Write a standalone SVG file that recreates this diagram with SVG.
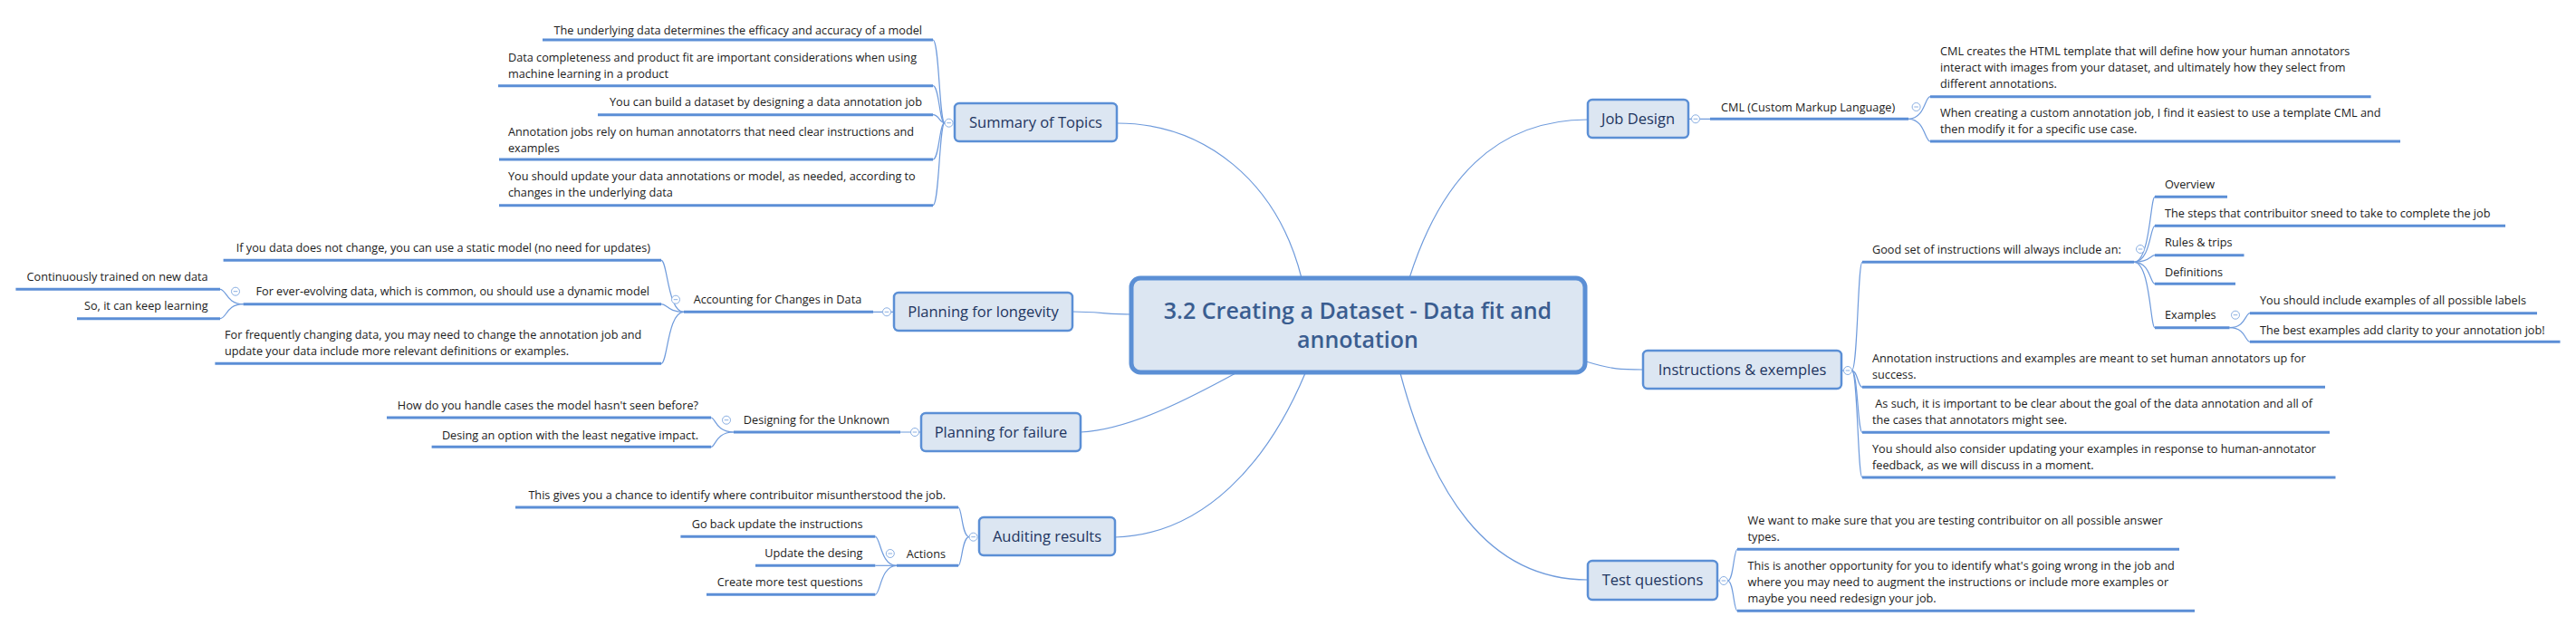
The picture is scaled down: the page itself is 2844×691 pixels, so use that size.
<svg xmlns="http://www.w3.org/2000/svg" xmlns:xlink="http://www.w3.org/1999/xlink" width="2844" height="691" viewBox="0 0 2844 691">
<style>
text{font-family:"Open Sans","Liberation Sans",sans-serif}
.leaf{font-size:12.7px;fill:#1b1b1b}
.end{text-anchor:end}
.topic{font-size:16.5px;fill:#1e3560;text-anchor:middle}
.title{font-size:25px;font-weight:600;fill:#3a5d90;text-anchor:middle}
.ul{stroke:#5b8ed6;stroke-width:3;fill:none}
.cn{stroke:#6f9bdc;stroke-width:1.2;fill:none}
.box{fill:#dce6f2;stroke:#5b8fd5;stroke-width:2.5}
.main{fill:#dce6f2;stroke:#5b8fd5;stroke-width:5}
.col{fill:#fff;stroke:#8aafe2;stroke-width:1}
</style>
<defs>
<g id="minus"><circle r="4.5" class="col"/><line x1="-2.3" y1="0" x2="2.3" y2="0" stroke="#8aafe2" stroke-width="1"/></g>
</defs>
<rect width="2844" height="691" fill="#fff"/>

<g id="connectors">
<path class="cn" d="M1233,136 C1330,136 1410,200 1437,307"/>
<path class="cn" d="M1184,344 C1210,344 1225,347 1249,347"/>
<path class="cn" d="M1193,477 C1250,474 1320,436 1366,411"/>
<path class="cn" d="M1231,593 C1330,590 1400,510 1441,412"/>
<path class="cn" d="M1556,307 C1590,200 1650,132 1753,132"/>
<path class="cn" d="M1751,399 C1780,408 1790,408 1814,408"/>
<path class="cn" d="M1546,412 C1580,540 1640,640 1753,640"/>
<path class="cn" d="M1043,135.7 C1037,135.7 1037,44 1030,44"/>
<path class="cn" d="M1043,135.7 C1037,135.7 1037,94.7 1030,94.7"/>
<path class="cn" d="M1043,135.7 C1037,135.7 1037,126.7 1030,126.7"/>
<path class="cn" d="M1043,135.7 C1037,135.7 1037,176 1030,176"/>
<path class="cn" d="M1043,135.7 C1037,135.7 1037,226.7 1030,226.7"/>
<path class="cn" d="M964,344.3 L974.5,344.3 M983.5,344.3 L987,344.3"/>
<path class="cn" d="M755,344.3 C737,344.3 737,287.3 730,287.3"/>
<path class="cn" d="M755,344.3 C737,344.3 737,335.7 730,335.7"/>
<path class="cn" d="M755,344.3 C737,344.3 737,401.3 730,401.3"/>
<path class="cn" d="M268.6,335.7 C250,335.7 250,319.3 243,319.3"/>
<path class="cn" d="M268.6,335.7 C250,335.7 250,351.7 243,351.7"/>
<path class="cn" d="M994,477 L1005.5,477 M1014.5,477 L1017,477"/>
<path class="cn" d="M810,477 C790,477 790,461 785,461"/>
<path class="cn" d="M810,477 C790,477 790,493.3 785,493.3"/>
<path class="cn" d="M1070,592.7 C1062,592.7 1062,560 1058,560"/>
<path class="cn" d="M1070,592.7 C1062,592.7 1062,624.3 1058,624.3"/>
<path class="cn" d="M990,624.3 C972,624.3 972,592.3 966.3,592.3"/>
<path class="cn" d="M990,624.3 C972,624.3 972,624.3 966.3,624.3"/>
<path class="cn" d="M990,624.3 C972,624.3 972,656.3 966.3,656.3"/>
<path class="cn" d="M1864,131.3 L1867.5,131.3 M1876.5,131.3 L1888,131.3"/>
<path class="cn" d="M2107,131.3 C2125,131.3 2125,106.7 2131,106.7"/>
<path class="cn" d="M2107,131.3 C2125,131.3 2125,156 2131,156"/>
<path class="cn" d="M2033,409 L2035.5,409"/>
<path class="cn" d="M2044.5,409 C2051,409 2051,289.3 2056,289.3"/>
<path class="cn" d="M2044.5,409 C2051,409 2051,427.3 2056,427.3"/>
<path class="cn" d="M2044.5,409 C2051,409 2051,477.3 2056,477.3"/>
<path class="cn" d="M2044.5,409 C2051,409 2051,527 2056,527"/>
<path class="cn" d="M2356,289.3 C2374,289.3 2374,217.3 2379,217.3"/>
<path class="cn" d="M2356,289.3 C2374,289.3 2374,249.3 2379,249.3"/>
<path class="cn" d="M2356,289.3 C2374,289.3 2374,281.7 2379,281.7"/>
<path class="cn" d="M2356,289.3 C2374,289.3 2374,313.3 2379,313.3"/>
<path class="cn" d="M2356,289.3 C2374,289.3 2374,361.7 2379,361.7"/>
<path class="cn" d="M2461.5,361.7 C2479,361.7 2479,345.7 2484,345.7"/>
<path class="cn" d="M2461.5,361.7 C2479,361.7 2479,377.3 2484,377.3"/>
<path class="cn" d="M1896,641 L1898.5,641"/>
<path class="cn" d="M1907.5,641 C1914,641 1914,606.3 1918,606.3"/>
<path class="cn" d="M1907.5,641 C1914,641 1914,674.3 1918,674.3"/>
</g>

<g id="main">
<rect class="main" x="1249" y="307" width="501" height="104" rx="10"/>
<text class="title" x="1499" y="352">3.2 Creating a Dataset - Data fit and</text>
<text class="title" x="1499" y="384">annotation</text>
</g>

<g id="summary">
<rect class="box" x="1054" y="114" width="179" height="42" rx="5"/>
<text class="topic" x="1143.5" y="141">Summary of Topics</text>
<use href="#minus" x="1047.6" y="135.7"/>
</g>
<g id="summary-1">
<text class="leaf end" x="1018" y="37.8">The underlying data determines the efficacy and accuracy of a model</text>
<line class="ul" x1="599" y1="44" x2="1030" y2="44"/>
</g>
<g id="summary-2">
<text class="leaf" x="561" y="67.8">Data completeness and product fit are important considerations when using</text>
<text class="leaf" x="561" y="85.8">machine learning in a product</text>
<line class="ul" x1="550" y1="94.7" x2="1030" y2="94.7"/>
</g>
<g id="summary-3">
<text class="leaf end" x="1018" y="117.2">You can build a dataset by designing a data annotation job</text>
<line class="ul" x1="660" y1="126.7" x2="1030" y2="126.7"/>
</g>
<g id="summary-4">
<text class="leaf" x="561" y="149.5">Annotation jobs rely on human annotatorrs that need clear instructions and</text>
<text class="leaf" x="561" y="167.5">examples</text>
<line class="ul" x1="551" y1="176" x2="1030" y2="176"/>
</g>
<g id="summary-5">
<text class="leaf" x="561" y="198.8">You should update your data annotations or model, as needed, according to</text>
<text class="leaf" x="561" y="216.8">changes in the underlying data</text>
<line class="ul" x1="551" y1="226.7" x2="1030" y2="226.7"/>
</g>

<g id="longevity">
<rect class="box" x="987" y="323" width="197" height="42" rx="5"/>
<text class="topic" x="1085.5" y="350">Planning for longevity</text>
<use href="#minus" x="979" y="344.3"/>
</g>
<g id="accounting">
<text class="leaf" x="765.7" y="335.2">Accounting for Changes in Data</text>
<line class="ul" x1="755" y1="344.3" x2="964" y2="344.3"/>
<use href="#minus" x="746" y="330.7"/>
</g>
<g id="acc-1">
<text class="leaf end" x="718" y="277.8">If you data does not change, you can use a static model (no need for updates)</text>
<line class="ul" x1="246.6" y1="287.3" x2="730" y2="287.3"/>
</g>
<g id="acc-2">
<text class="leaf end" x="717" y="326.2">For ever-evolving data, which is common, ou should use a dynamic model</text>
<line class="ul" x1="268.6" y1="335.7" x2="730" y2="335.7"/>
<use href="#minus" x="260" y="321.7"/>
</g>
<g id="acc-2-1">
<text class="leaf end" x="229.6" y="310.2">Continuously trained on new data</text>
<line class="ul" x1="17.4" y1="319.3" x2="243" y2="319.3"/>
</g>
<g id="acc-2-2">
<text class="leaf end" x="229.6" y="342.2">So, it can keep learning</text>
<line class="ul" x1="85" y1="351.7" x2="243" y2="351.7"/>
</g>
<g id="acc-3">
<text class="leaf" x="248" y="373.8">For frequently changing data, you may need to change the annotation job and</text>
<text class="leaf" x="248" y="391.8">update your data include more relevant definitions or examples.</text>
<line class="ul" x1="237.4" y1="401.3" x2="730" y2="401.3"/>
</g>

<g id="failure">
<rect class="box" x="1017" y="456" width="176" height="42" rx="5"/>
<text class="topic" x="1105" y="483">Planning for failure</text>
<use href="#minus" x="1010" y="477"/>
</g>
<g id="unknown">
<text class="leaf" x="820.8" y="468.2">Designing for the Unknown</text>
<line class="ul" x1="810" y1="477" x2="994" y2="477"/>
<use href="#minus" x="802" y="463.7"/>
</g>
<g id="unknown-1">
<text class="leaf end" x="771" y="451.8">How do you handle cases the model hasn't seen before?</text>
<line class="ul" x1="427" y1="461" x2="785" y2="461"/>
</g>
<g id="unknown-2">
<text class="leaf end" x="771" y="484.5">Desing an option with the least negative impact.</text>
<line class="ul" x1="476.6" y1="493.3" x2="785" y2="493.3"/>
</g>

<g id="auditing">
<rect class="box" x="1081" y="571" width="150" height="42" rx="5"/>
<text class="topic" x="1156" y="598">Auditing results</text>
<use href="#minus" x="1074.6" y="592.7"/>
</g>
<g id="aud-1">
<text class="leaf end" x="1044" y="551.2">This gives you a chance to identify where contribuitor misuntherstood the job.</text>
<line class="ul" x1="569" y1="560" x2="1058" y2="560"/>
</g>
<g id="actions">
<text class="leaf end" x="1044" y="615.5">Actions</text>
<line class="ul" x1="990" y1="624.3" x2="1058" y2="624.3"/>
<use href="#minus" x="982.8" y="611"/>
</g>
<g id="act-1">
<text class="leaf end" x="952.5" y="583.2">Go back update the instructions</text>
<line class="ul" x1="751.4" y1="592.3" x2="966.3" y2="592.3"/>
</g>
<g id="act-2">
<text class="leaf end" x="952.5" y="614.8">Update the desing</text>
<line class="ul" x1="834" y1="624.3" x2="966.3" y2="624.3"/>
</g>
<g id="act-3">
<text class="leaf end" x="952.5" y="647.2">Create more test questions</text>
<line class="ul" x1="780" y1="656.3" x2="966.3" y2="656.3"/>
</g>

<g id="jobdesign">
<rect class="box" x="1753" y="110" width="111" height="42" rx="5"/>
<text class="topic" x="1808.5" y="137">Job Design</text>
<use href="#minus" x="1872" y="131.3"/>
</g>
<g id="cml">
<text class="leaf" x="1900" y="122.5">CML (Custom Markup Language)</text>
<line class="ul" x1="1888" y1="131.3" x2="2107" y2="131.3"/>
<use href="#minus" x="2115.6" y="118"/>
</g>
<g id="cml-1">
<text class="leaf" x="2142" y="61.2">CML creates the HTML template that will define how your human annotators</text>
<text class="leaf" x="2142" y="79.2">interact with images from your dataset, and ultimately how they select from</text>
<text class="leaf" x="2142" y="97.2">different annotations.</text>
<line class="ul" x1="2131" y1="106.7" x2="2617.6" y2="106.7"/>
</g>
<g id="cml-2">
<text class="leaf" x="2142" y="129.2">When creating a custom annotation job, I find it easiest to use a template CML and</text>
<text class="leaf" x="2142" y="147.2">then modify it for a specific use case.</text>
<line class="ul" x1="2131" y1="156" x2="2650" y2="156"/>
</g>

<g id="instructions">
<rect class="box" x="1814" y="387" width="219" height="42" rx="5"/>
<text class="topic" x="1923.5" y="414">Instructions &amp; exemples</text>
<use href="#minus" x="2040" y="409"/>
</g>
<g id="ins-1">
<text class="leaf" x="2067" y="279.5">Good set of instructions will always include an:</text>
<line class="ul" x1="2056" y1="289.3" x2="2356" y2="289.3"/>
<use href="#minus" x="2363" y="275"/>
</g>
<g id="ins-1-1">
<text class="leaf" x="2390" y="207.8">Overview</text>
<line class="ul" x1="2379" y1="217.3" x2="2459" y2="217.3"/>
</g>
<g id="ins-1-2">
<text class="leaf" x="2390" y="239.5">The steps that contribuitor sneed to take to complete the job</text>
<line class="ul" x1="2379" y1="249.3" x2="2766" y2="249.3"/>
</g>
<g id="ins-1-3">
<text class="leaf" x="2390" y="271.8">Rules &amp; trips</text>
<line class="ul" x1="2379" y1="281.7" x2="2477.5" y2="281.7"/>
</g>
<g id="ins-1-4">
<text class="leaf" x="2390" y="304.5">Definitions</text>
<line class="ul" x1="2379" y1="313.3" x2="2468" y2="313.3"/>
</g>
<g id="ins-1-5">
<text class="leaf" x="2390" y="352.2">Examples</text>
<line class="ul" x1="2379" y1="361.7" x2="2461.5" y2="361.7"/>
<use href="#minus" x="2468" y="347.7"/>
</g>
<g id="ex-1">
<text class="leaf" x="2495" y="336.2">You should include examples of all possible labels</text>
<line class="ul" x1="2484" y1="345.7" x2="2801" y2="345.7"/>
</g>
<g id="ex-2">
<text class="leaf" x="2495" y="368.5">The best examples add clarity to your annotation job!</text>
<line class="ul" x1="2484" y1="377.3" x2="2826.5" y2="377.3"/>
</g>
<g id="ins-2">
<text class="leaf" x="2067" y="400.2">Annotation instructions and examples are meant to set human annotators up for</text>
<text class="leaf" x="2067" y="418.2">success.</text>
<line class="ul" x1="2056" y1="427.3" x2="2567" y2="427.3"/>
</g>
<g id="ins-3">
<text class="leaf" x="2067" y="450.2" xml:space="preserve"> As such, it is important to be clear about the goal of the data annotation and all of</text>
<text class="leaf" x="2067" y="468.2">the cases that annotators might see.</text>
<line class="ul" x1="2056" y1="477.3" x2="2572" y2="477.3"/>
</g>
<g id="ins-4">
<text class="leaf" x="2067" y="499.8">You should also consider updating your examples in response to human-annotator</text>
<text class="leaf" x="2067" y="517.8">feedback, as we will discuss in a moment.</text>
<line class="ul" x1="2056" y1="527" x2="2578.5" y2="527"/>
</g>

<g id="testquestions">
<rect class="box" x="1753" y="619" width="143" height="43" rx="5"/>
<text class="topic" x="1824.5" y="646">Test questions</text>
<use href="#minus" x="1903" y="641"/>
</g>
<g id="tq-1">
<text class="leaf" x="1929.6" y="579.2">We want to make sure that you are testing contribuitor on all possible answer</text>
<text class="leaf" x="1929.6" y="597.2">types.</text>
<line class="ul" x1="1918" y1="606.3" x2="2406" y2="606.3"/>
</g>
<g id="tq-2">
<text class="leaf" x="1929.6" y="629.2">This is another opportunity for you to identify what's going wrong in the job and</text>
<text class="leaf" x="1929.6" y="647.2">where you may need to augment the instructions or include more examples or</text>
<text class="leaf" x="1929.6" y="665.2">maybe you need redesign your job.</text>
<line class="ul" x1="1918" y1="674.3" x2="2423" y2="674.3"/>
</g>
</svg>
